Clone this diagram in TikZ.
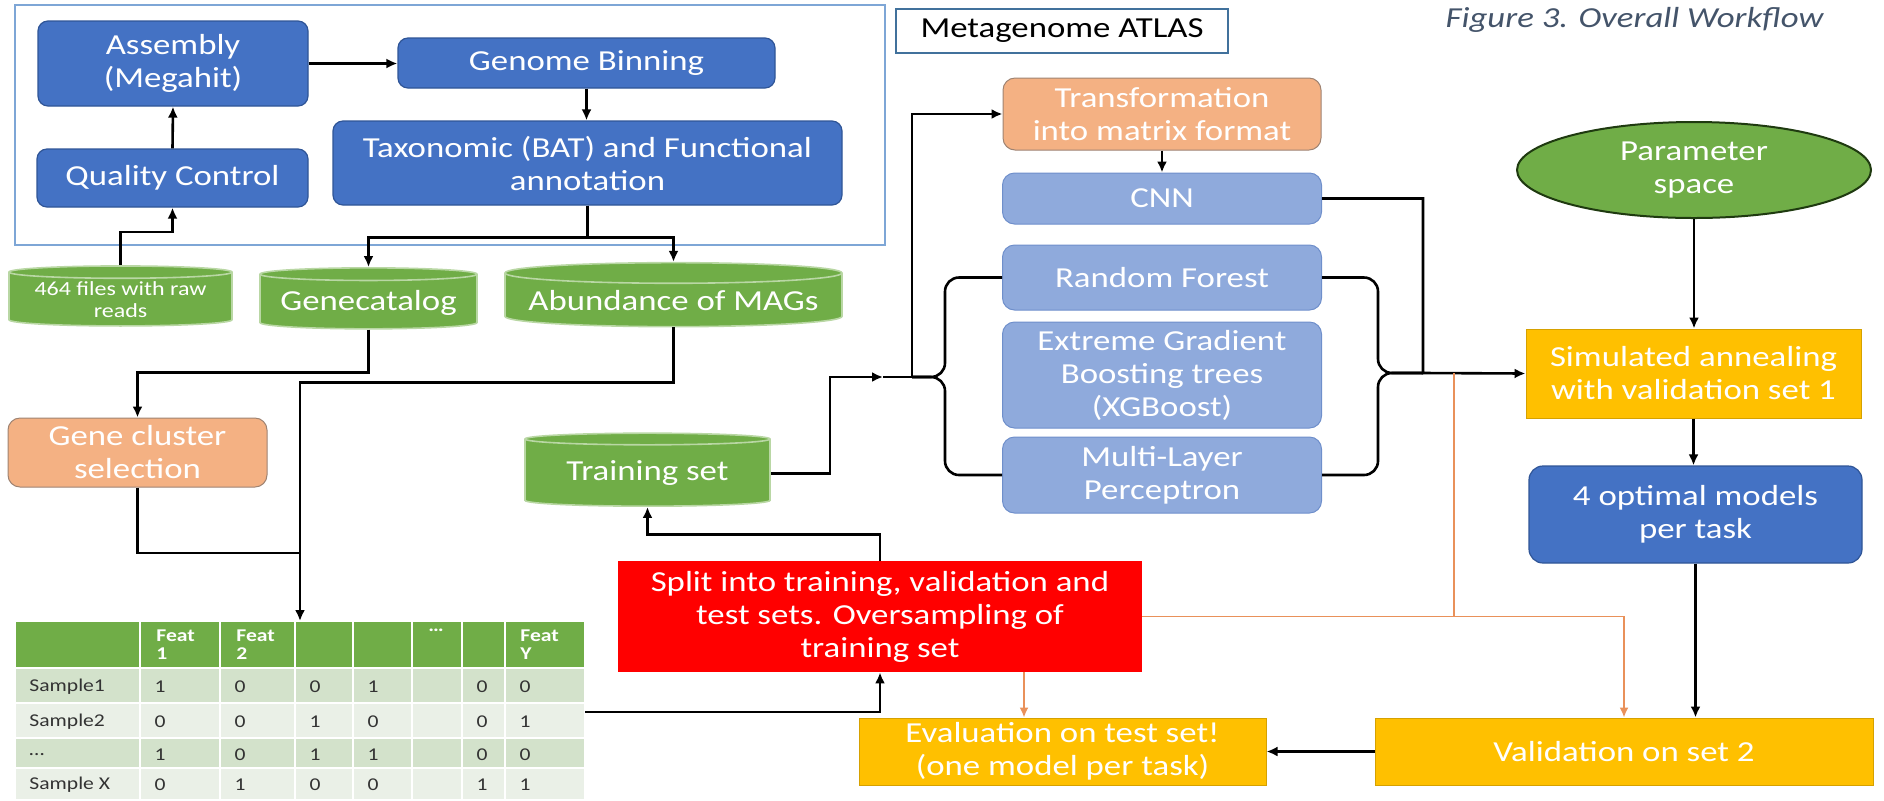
\documentclass[tikz,border=0pt]{standalone}
\usepackage{fontspec}
\setmainfont{Carlito}[FakeStretch=1.2]
\usetikzlibrary{shapes.geometric,arrows.meta}

\definecolor{atlasblue}{HTML}{4472C4}
\definecolor{atlasedge}{HTML}{2F5597}
\definecolor{mlblue}{HTML}{8FAADC}
\definecolor{mledge}{HTML}{6F8FCB}
\definecolor{prepor}{HTML}{F4B183}
\definecolor{prepedge}{HTML}{9E8372}
\definecolor{dbgreen}{HTML}{70AD47}
\definecolor{dbline}{HTML}{B9D7A4}
\definecolor{evalyel}{HTML}{FFC000}
\definecolor{evaledge}{HTML}{D6A100}
\definecolor{splitred}{HTML}{FF0000}
\definecolor{frameblue}{HTML}{7EA6D6}
\definecolor{lbledge}{HTML}{41719C}
\definecolor{capgrey}{HTML}{44546A}
\definecolor{flowor}{HTML}{E9915A}
\definecolor{rowdark}{HTML}{D3E2CB}
\definecolor{rowlight}{HTML}{EAF0E7}
\definecolor{paramedge}{HTML}{1F3A10}

\newcommand{\boxfont}{\fontsize{14.5}{16.5}\selectfont}
\newcommand{\cylfont}{\fontsize{10}{11}\selectfont}
\newcommand{\tabfont}{\fontsize{9}{9}\selectfont}

\tikzset{
  txt/.style={font=\boxfont, text=white, align=center, inner sep=2pt},
  bluebox/.style={txt, rounded corners=5pt, fill=atlasblue, draw=atlasedge, line width=0.6pt},
  mlbox/.style={txt, rounded corners=6pt, fill=mlblue, draw=mledge, line width=0.5pt},
  prepbox/.style={txt, rounded corners=6pt, fill=prepor, draw=prepedge, line width=0.5pt},
  yelbox/.style={txt, fill=evalyel, draw=evaledge, line width=0.5pt},
  dbcyl/.style={txt, inner sep=1pt, cylinder, shape border rotate=90, aspect=0.07,
    cylinder uses custom fill, cylinder body fill=dbgreen, cylinder end fill=dbgreen,
    draw=dbline, line width=0.8pt},
  arr/.style={-{Latex[length=5.5pt,width=5pt]}, line width=1.3pt},
  oline/.style={flowor, line width=0.9pt},
  oarr/.style={oline, -{Latex[length=5pt,width=4.5pt]}},
  headtxt/.style={font=\tabfont\bfseries, text=white, align=left, anchor=north west, inner sep=1pt},
  celltxt/.style={font=\tabfont, text=black!80, inner sep=1pt}
}

\begin{document}
\begin{tikzpicture}[x=0.5pt, y=-0.5pt]
\useasboundingbox (0,0) rectangle (1884,800);

% Metagenome ATLAS block
\node[draw=frameblue, line width=0.8pt, minimum width=435pt, minimum height=120pt] (atlas) at (450,125) {};
\node[draw=lbledge, line width=0.8pt, minimum width=166pt, minimum height=22pt, font=\boxfont] (atlaslbl) at (1062,31) {Metagenome ATLAS};
\node[font=\boxfont\itshape, text=capgrey] (caption) at (1634.5,20) {Figure 3. Overall Workflow};

\node[bluebox, minimum width=135pt, minimum height=42.5pt] (asm) at (173,63.5) {Assembly\\(Megahit)};
\node[bluebox, minimum width=135.5pt, minimum height=29pt] (qc) at (172.5,178) {Quality Control};
\node[bluebox, minimum width=188.5pt, minimum height=25pt] (gb) at (586.5,63) {Genome Binning};
\node[bluebox, minimum width=254.5pt, minimum height=42pt] (tax) at (587.5,163) {Taxonomic (BAT) and Functional\\annotation};

% Data stores
\node[dbcyl, font=\cylfont, minimum width=111.5pt, minimum height=30pt] (raw) at (120.5,300) {464 files with raw\\reads};
\node[dbcyl, minimum width=108.5pt, minimum height=30.5pt] (genecat) at (368.5,302.5) {Genecatalog};
\node[dbcyl, minimum width=168.5pt, minimum height=32pt] (abund) at (673.5,301) {Abundance of MAGs};
\node[dbcyl, minimum width=122.5pt, minimum height=36.5pt] (train) at (647.5,473.5) {Training set};

% Preprocessing
\node[prepbox, minimum width=129.5pt, minimum height=34.5pt] (genesel) at (137.5,452.5) {Gene cluster\\selection};
\node[prepbox, minimum width=159pt, minimum height=36pt] (transf) at (1162,114) {Transformation\\into matrix format};
\node[txt, fill=splitred, minimum width=262pt, minimum height=55.5pt] (split) at (880,616.5) {Split into training, validation and\\test sets. Oversampling of\\training set};

% Models
\node[mlbox, minimum width=159.5pt, minimum height=25.5pt] (cnn) at (1162,198.5) {CNN};
\node[mlbox, minimum width=159.5pt, minimum height=32.5pt] (rf) at (1162,277.5) {Random Forest};
\node[mlbox, minimum width=159.5pt, minimum height=53pt] (xgb) at (1162,375) {Extreme Gradient\\Boosting trees\\(XGBoost)};
\node[mlbox, minimum width=159.5pt, minimum height=38pt] (mlp) at (1162,475) {Multi-Layer\\Perceptron};

% Tuning and evaluation
\node[ellipse, txt, inner sep=0pt, fill=dbgreen, draw=paramedge, line width=1pt, minimum width=177pt, minimum height=48pt] (param) at (1694,170) {Parameter\\space};
\node[yelbox, minimum width=167.5pt, minimum height=44.5pt] (sa) at (1693.5,373.5) {Simulated annealing\\with validation set 1};
\node[bluebox, rounded corners=7pt, minimum width=166.5pt, minimum height=48.5pt] (opt) at (1695.5,514.5) {4 optimal models\\per task};
\node[yelbox, minimum width=249pt, minimum height=33.5pt] (val2) at (1624,751.5) {Validation on set 2};
\node[yelbox, minimum width=203.5pt, minimum height=33.5pt] (evalt) at (1062.5,751.5) {Evaluation on test set!\\(one model per task)};

% Feature table
\foreach \yt/\yb/\fillc in {621/668/dbgreen, 668/703/rowdark, 703/738/rowlight, 738/768/rowdark, 768/800/rowlight}
  \foreach \xl/\xr in {15/140, 140/220, 220/295, 295/353, 353/412, 412/462, 462/505, 505/585}
    \filldraw[fill=\fillc, draw=white, line width=1.2pt] (\xl,\yt) rectangle (\xr,\yb);
\node[headtxt] (feat1) at (154,627) {Feat\\1};
\node[headtxt] (feat2) at (234,627) {Feat\\2};
\node[headtxt] (featdots) at (426,627) {\dots};
\node[headtxt] (featY) at (518,627) {Feat\\Y};
\foreach \yc/\lbl/\va/\vb/\vc/\vd/\vf/\vg in {687/Sample1/1/0/0/1/0/0, 722/Sample2/0/0/1/0/0/1, 755/{\dots}/1/0/1/1/0/0, 785/Sample X/0/1/0/0/1/1} {
  \node[celltxt, anchor=west] (row\yc) at (27,\yc) {\lbl};
  \foreach \v/\xc [count=\k] in {\va/160, \vb/240, \vc/315, \vd/373, \vf/482, \vg/525}
    \node[celltxt] (val\yc-\k) at (\xc,\yc) {\v};
}
\coordinate (tabN) at (300,621);
\coordinate (tabE) at (585,712);
\coordinate (merge) at (300,553);

% ATLAS flow
\draw[arr] (raw.north) -- ++(0,-33) -| (qc.south);
\draw[arr] (qc.north) -- (asm.south);
\draw[arr] (asm.east) -- (asm.east -| gb.west);
\draw[arr] (gb.south) -- (gb.south |- tax.north);
\draw[arr] (tax.south) -- ++(0,32) -| (genecat.north);
\draw[arr] (tax.south) -- ++(0,32) -| (abund.north);

% To the table
\draw[arr] (genecat.south) -- ++(0,43) -| (genesel.north);
\draw[arr] (abund.south) -- ++(0,55) -| (tabN);
\draw[line width=1.3pt] (genesel.south) |- (merge);
\draw[arr] (tabE) -| (split.south);
\draw[arr] (split.north) -- ++(0,-26) -| (train.south);

% Training set to the models
\coordinate (lmid) at (883,377);
\coordinate (ltip) at (912,377);
\coordinate (lbrace) at (945,377);
\draw[arr] (train.east) -- ++(59,0) |- (lmid);
\draw[line width=1.3pt] (lmid) -- (ltip);
\draw[arr] (ltip) |- (transf.west);
\draw[arr] (transf.south) -- (transf.south |- cnn.north);
\draw[line width=1.3pt, rounded corners=7pt] (rf.west) -| (lbrace) -- (ltip);
\draw[line width=1.3pt, rounded corners=7pt] (mlp.west) -| (lbrace) -- (ltip);

% Models to tuning
\coordinate (rbrace) at (1378,373);
\coordinate (cnnjoin) at (1423,373);
\draw[arr] (cnn.east) -| (cnnjoin) -- (sa.west);
\draw[line width=1.3pt, rounded corners=7pt] (rf.east) -| (rbrace) -- (cnnjoin);
\draw[line width=1.3pt, rounded corners=7pt] (mlp.east) -| (rbrace) -- (cnnjoin);

\draw[arr] (param.south) -- (param.south |- sa.north);
\draw[arr] (sa.south) -- (sa.south |- opt.north);
\draw[arr] (opt.south) -- (opt.south |- val2.north);
\draw[arr] (val2.west) -- (evalt.east);

% Test and validation sets
\coordinate (obranch) at (1454,373);
\draw[oline] (obranch) -- (obranch |- split.east);
\draw[oarr] (split.east) -| (val2.north);
\path (split.south) ++(144,0) coordinate (rs2);
\draw[oarr] (rs2) -- (rs2 |- evalt.north);

\end{tikzpicture}
\end{document}
